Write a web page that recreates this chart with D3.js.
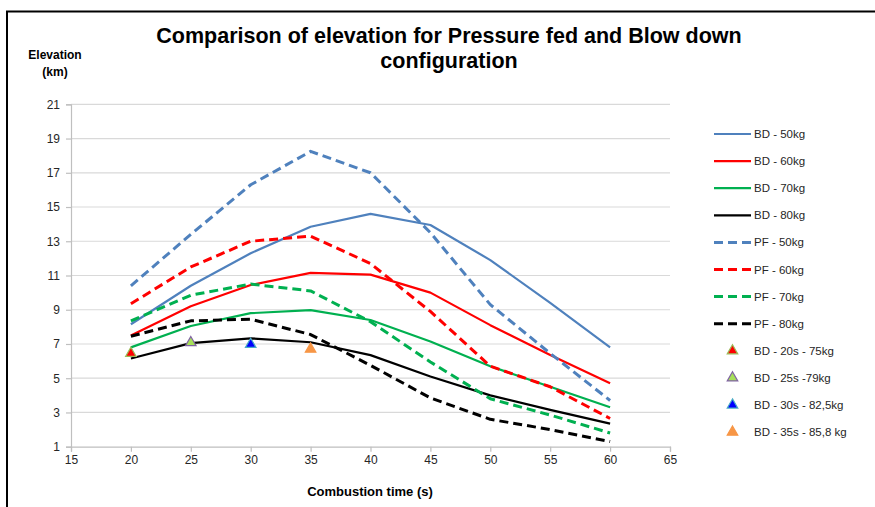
<!DOCTYPE html>
<html>
    <head>
        <title>Comparison of elevation</title>
        <meta charset="UTF-8">
        <script src="https://cdnjs.cloudflare.com/ajax/libs/d3/7.9.0/d3.min.js"></script>
        <style>
            html, body {
                margin: 0;
                padding: 0;
                background: #fff;
                font-family: 'Liberation Sans', Arial, sans-serif;
            }
            .chart-container {
                width: 875px;
                height: 507px;
            }
        </style>
    </head>
    <body>
        <div class="chart-container"></div>
        <script>
            // combustion time (s)
            const times = [20, 25, 30, 35, 40, 45, 50, 55, 60];

            // blow down, elevation (km)
            const bd50 = [8.15, 10.4, 12.3, 13.85, 14.6, 13.95, 11.9, 9.4, 6.8];
            const bd60 = [7.5, 9.2, 10.45, 11.15, 11.05, 10.0, 8.1, 6.35, 4.7];
            const bd70 = [6.8, 8.05, 8.8, 8.98, 8.4, 7.15, 5.7, 4.5, 3.3];
            const bd80 = [6.15, 7.05, 7.33, 7.1, 6.35, 5.1, 4.0, 3.15, 2.35];

            // pressure fed, elevation (km)
            const pf50 = [10.4, 13.4, 16.3, 18.25, 17.0, 13.5, 9.3, 6.45, 3.7];
            const pf60 = [9.35, 11.5, 13.0, 13.3, 11.7, 8.9, 5.7, 4.5, 2.65];
            const pf70 = [8.35, 9.85, 10.5, 10.1, 8.3, 5.95, 3.8, 2.85, 1.8];
            const pf80 = [7.45, 8.35, 8.45, 7.55, 5.75, 3.85, 2.6, 2.0, 1.3];

            const lineNames = ['BD - 50kg', 'BD - 60kg', 'BD - 70kg', 'BD - 80kg',
                               'PF - 50kg', 'PF - 60kg', 'PF - 70kg', 'PF - 80kg'];

            // single points
            const pointNames = ['BD - 20s - 75kg', 'BD - 25s -79kg', 'BD - 30s - 82,5kg', 'BD - 35s - 85,8 kg'];
            const pointTimes = [20, 25, 30, 35];
            const pointValues = [6.45, 7.08, 6.98, 6.7];

            const xTicks = [15, 20, 25, 30, 35, 40, 45, 50, 55, 60, 65];
            const yTicks = [1, 3, 5, 7, 9, 11, 13, 15, 17, 19, 21];

            function renderChart(selector){
                let w = 875;
                let h = 507;
                let svg = d3.select(selector).append("svg")
                        .attr("width", w)
                        .attr("height", h);

                // frame (only top and left visible)
                svg.append("path")
                    .attr("d", "M7,507 V11.5 H875")
                    .attr("fill", "none")
                    .attr("stroke", "#000")
                    .attr("stroke-width", 2);

                svg.append("text")
                    .attr("x", 449)
                    .attr("y", 43)
                    .attr("text-anchor", "middle")
                    .style("font-family", "'Liberation Sans', Arial, sans-serif")
                    .style("font-weight", "bold")
                    .style("font-size", "21.5px")
                    .text("Comparison of elevation for Pressure fed and Blow down");
                svg.append("text")
                    .attr("x", 449)
                    .attr("y", 68)
                    .attr("text-anchor", "middle")
                    .style("font-family", "'Liberation Sans', Arial, sans-serif")
                    .style("font-weight", "bold")
                    .style("font-size", "21.5px")
                    .text("configuration");

                let x = d3.scaleLinear().domain([15, 65]).range([71, 670]);
                let y = d3.scaleLinear().domain([1, 21]).range([446.7, 104.3]);

                let g = svg.append("g");

                // grid
                g.selectAll(".grid")
                    .data(yTicks.slice(1))
                    .enter().append("line")
                    .attr("x1", x(15)).attr("x2", x(65))
                    .attr("y1", d => y(d)).attr("y2", d => y(d))
                    .attr("stroke", "#d9d9d9")
                    .attr("stroke-width", 1.2);

                let xAxis = d3.axisBottom(x).tickValues(xTicks).tickSize(5).tickPadding(4);
                let yAxis = d3.axisLeft(y).tickValues(yTicks).tickSize(5).tickPadding(6);

                let ax = g.append("g").attr("transform", "translate(0," + y(1) + ")").call(xAxis);
                let ay = g.append("g").attr("transform", "translate(" + x(15) + ",0)").call(yAxis);
                [ax, ay].forEach(a => {
                    a.select(".domain").attr("stroke", "#bfbfbf").attr("stroke-width", 1.2);
                    a.selectAll(".tick line").attr("stroke", "#bfbfbf").attr("stroke-width", 1.2);
                    a.selectAll(".tick text")
                        .attr("fill", "#262626")
                        .style("font-family", "'Liberation Sans', Arial, sans-serif")
                        .style("font-size", "12px");
                });

                svg.append("text")
                    .attr("x", 55).attr("y", 59)
                    .attr("text-anchor", "middle")
                    .style("font-family", "'Liberation Sans Narrow', 'Liberation Sans', Arial, sans-serif")
                    .style("font-weight", "bold").style("font-size", "12px")
                    .text("Elevation");
                svg.append("text")
                    .attr("x", 55).attr("y", 76)
                    .attr("text-anchor", "middle")
                    .style("font-family", "'Liberation Sans Narrow', 'Liberation Sans', Arial, sans-serif")
                    .style("font-weight", "bold").style("font-size", "12px")
                    .text("(km)");
                svg.append("text")
                    .attr("x", 370).attr("y", 496)
                    .attr("text-anchor", "middle")
                    .style("font-family", "'Liberation Sans Narrow', 'Liberation Sans', Arial, sans-serif")
                    .style("font-weight", "bold").style("font-size", "13px")
                    .text("Combustion time (s)");

                let series = [bd50, bd60, bd70, bd80, pf50, pf60, pf70, pf80];
                let colors = ['#4f81bd', '#ff0000', '#00b050', '#000000'];

                let line = d3.line()
                        .x(d => x(d.x))
                        .y(d => y(d.y));

                // solid first, then dashed over
                series.forEach((s, i) => {
                    let data = times.map((t, k) => ({x: t, y: s[k]}));
                    let dashed = i >= 4;
                    g.append("path")
                        .datum(data)
                        .attr("fill", "none")
                        .attr("stroke", colors[i % 4])
                        .attr("stroke-width", dashed ? 3 : 2.2)
                        .attr("stroke-dasharray", dashed ? "9 5" : null)
                        .attr("stroke-linejoin", "round")
                        .attr("d", line);
                });

                let triFill = ['#ff0000', '#a6e05a', '#0000ff', '#f79646'];
                let triStroke = ['#9bbb59', '#8064a2', '#4bacc6', '#f79646'];
                let tri = d3.symbol().type(d3.symbolTriangle).size(48);

                pointTimes.forEach((t, i) => {
                    g.append("path")
                        .attr("d", tri)
                        .attr("transform", "translate(" + x(t) + "," + y(pointValues[i]) + ")")
                        .attr("fill", triFill[i])
                        .attr("stroke", triStroke[i])
                        .attr("stroke-width", 1.2);
                });

                // legend
                let leg = svg.append("g");
                let rowH = 27.1;
                let top = 134;
                lineNames.forEach((name, i) => {
                    let ly = top + i * rowH;
                    leg.append("line")
                        .attr("x1", 714).attr("x2", 751)
                        .attr("y1", ly).attr("y2", ly)
                        .attr("stroke", colors[i % 4])
                        .attr("stroke-width", i >= 4 ? 3 : 2.2)
                        .attr("stroke-dasharray", i >= 4 ? "9 5" : null);
                    leg.append("text")
                        .attr("x", 754).attr("y", ly + 4)
                        .attr("fill", "#262626")
                        .style("font-size", "11.5px")
                        .text(name);
                });
                pointNames.forEach((name, i) => {
                    let ly = top + (i + 8) * rowH;
                    leg.append("path")
                        .attr("d", tri)
                        .attr("transform", "translate(732.5," + ly + ")")
                        .attr("fill", triFill[i])
                        .attr("stroke", triStroke[i])
                        .attr("stroke-width", 1.2);
                    leg.append("text")
                        .attr("x", 754).attr("y", ly + 4)
                        .attr("fill", "#262626")
                        .style("font-size", "11.5px")
                        .text(name);
                });
            }

            renderChart('.chart-container');
        </script>
    </body>
</html>
